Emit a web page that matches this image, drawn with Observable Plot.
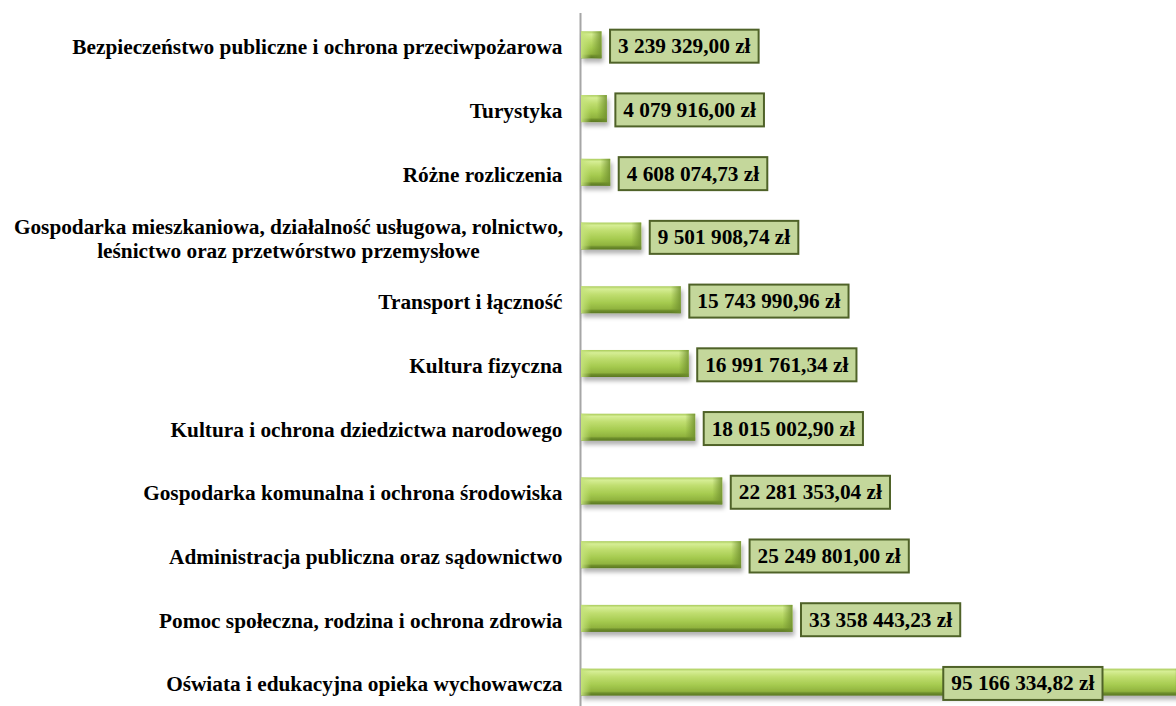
<!DOCTYPE html>
<html>
<head>
<meta charset="utf-8">
<script src="https://cdn.jsdelivr.net/npm/d3@7"></script>
<script src="https://cdn.jsdelivr.net/npm/@observablehq/plot@0.6"></script>
<style>
  html, body { margin: 0; padding: 0; background: #fff; }
  #chart svg { display: block; }
</style>
</head>
<body>
<div id="chart"></div>
<script>
const categories = [
  "Bezpieczeństwo publiczne i ochrona przeciwpożarowa",
  "Turystyka",
  "Różne rozliczenia",
  "Gospodarka mieszkaniowa, działalność usługowa, rolnictwo,\nleśnictwo oraz przetwórstwo przemysłowe",
  "Transport i łączność",
  "Kultura fizyczna",
  "Kultura i ochrona dziedzictwa narodowego",
  "Gospodarka komunalna i ochrona środowiska",
  "Administracja publiczna oraz sądownictwo",
  "Pomoc społeczna, rodzina i ochrona zdrowia",
  "Oświata i edukacyjna opieka wychowawcza"
];
const values = [
  3239329.00, 4079916.00, 4608074.73, 9501908.74, 15743990.96, 16991761.34,
  18015002.90, 22281353.04, 25249801.00, 33358443.23, 95166334.82
];

const pl = d3.formatLocale({decimal: ",", thousands: " ", grouping: [3], currency: ["", " zł"]});
const fmt = pl.format("$,.2f");

const data = categories.map((c, i) => ({category: c, value: values[i], label: fmt(values[i])}));
const maxV = d3.max(values);
const singleLine = data.filter(d => !d.category.includes("\n"));
const multiLine = data.filter(d => d.category.includes("\n"));
const outside = data.filter(d => d.value !== maxV);
const inside = data.filter(d => d.value === maxV);

const font = "'Liberation Serif', 'Times New Roman', serif";

const chart = Plot.plot({
  width: 1176,
  height: 706,
  marginLeft: 581,
  marginRight: 0,
  marginTop: 13,
  marginBottom: 0,
  style: {fontFamily: font, background: "#fff", overflow: "hidden"},
  x: {domain: [0, 93.85e6], axis: null},
  y: {domain: categories, axis: null, paddingInner: 0.576, paddingOuter: 0.288, round: false, range: [13, 714]},
  marks: [
    Plot.ruleX([0], {stroke: "#a6a6a6", strokeWidth: 2, dx: -1}),
    Plot.barX(data, {x: "value", y: "category", fill: "url(#barGrad)"}),
    Plot.barX(data, {x1: 0, x2: 0, y: "category", insetRight: -10, fill: "url(#leftCap)"}),
    Plot.barX(data, {x1: "value", x2: "value", y: "category", insetLeft: -10, fill: "url(#rightCap)"}),
    Plot.text(singleLine, {x: 0, y: "category", text: "category", textAnchor: "end", dx: -19, dy: 2,
      fontSize: 21.3, fontWeight: "bold", fill: "#000"}),
    Plot.text(multiLine, {x: 0, y: "category", text: "category", textAnchor: "middle", dx: -293, dy: 2,
      fontSize: 21.3, fontWeight: "bold", fill: "#000", lineHeight: 1.13}),
    Plot.text(outside, {x: "value", y: "category", text: "label", textAnchor: "start", dx: 16, dy: 1,
      fontSize: 21.3, fontWeight: "bold", fill: "#000"}),
    Plot.text(inside, {x: "value", y: "category", text: "label", textAnchor: "middle", dx: -162, dy: 1,
      fontSize: 21.3, fontWeight: "bold", fill: "#000"})
  ]
});

document.getElementById("chart").appendChild(chart);

const ns = "http://www.w3.org/2000/svg";
const defs = document.createElementNS(ns, "defs");
defs.innerHTML = `
  <linearGradient id="barGrad" x1="0" y1="0" x2="0" y2="1">
    <stop offset="0" stop-color="#a9cb5a"/>
    <stop offset="0.1" stop-color="#d6ee95"/>
    <stop offset="0.3" stop-color="#c0de70"/>
    <stop offset="0.6" stop-color="#a6cb50"/>
    <stop offset="0.84" stop-color="#90b33e"/>
    <stop offset="0.9" stop-color="#6f8f2c"/>
    <stop offset="1" stop-color="#5a7722"/>
  </linearGradient>
  <linearGradient id="leftCap" x1="0" y1="0" x2="1" y2="0">
    <stop offset="0" stop-color="#c4e27a" stop-opacity="0.95"/>
    <stop offset="1" stop-color="#c4e27a" stop-opacity="0"/>
  </linearGradient>
  <linearGradient id="rightCap" x1="0" y1="0" x2="1" y2="0">
    <stop offset="0" stop-color="#6f8f2e" stop-opacity="0"/>
    <stop offset="1" stop-color="#6f8f2e" stop-opacity="0.85"/>
  </linearGradient>
  <filter id="shadow" x="-5%" y="-30%" width="115%" height="190%">
    <feDropShadow dx="2" dy="4" stdDeviation="2.2" flood-color="#000" flood-opacity="0.3"/>
  </filter>`;
chart.insertBefore(defs, chart.firstChild);

const barsG = chart.querySelector('g[fill="url(#barGrad)"]');
if (barsG) barsG.setAttribute("filter", "url(#shadow)");

chart.querySelectorAll("text").forEach(t => {
  if (!/zł$/.test(t.textContent)) return;
  const b = t.getBBox();
  const tr = t.getAttribute("transform");
  const r = document.createElementNS(ns, "rect");
  const padX = 8;
  const cy = b.y + b.height / 2;
  r.setAttribute("x", b.x - padX);
  r.setAttribute("y", cy - 16.5);
  r.setAttribute("width", b.width + 2 * padX);
  r.setAttribute("height", 33);
  r.setAttribute("fill", "#c4d79b");
  r.setAttribute("stroke", "#4f6228");
  r.setAttribute("stroke-width", 2);
  if (tr) r.setAttribute("transform", tr);
  t.parentNode.insertBefore(r, t);
});
</script>
</body>
</html>
